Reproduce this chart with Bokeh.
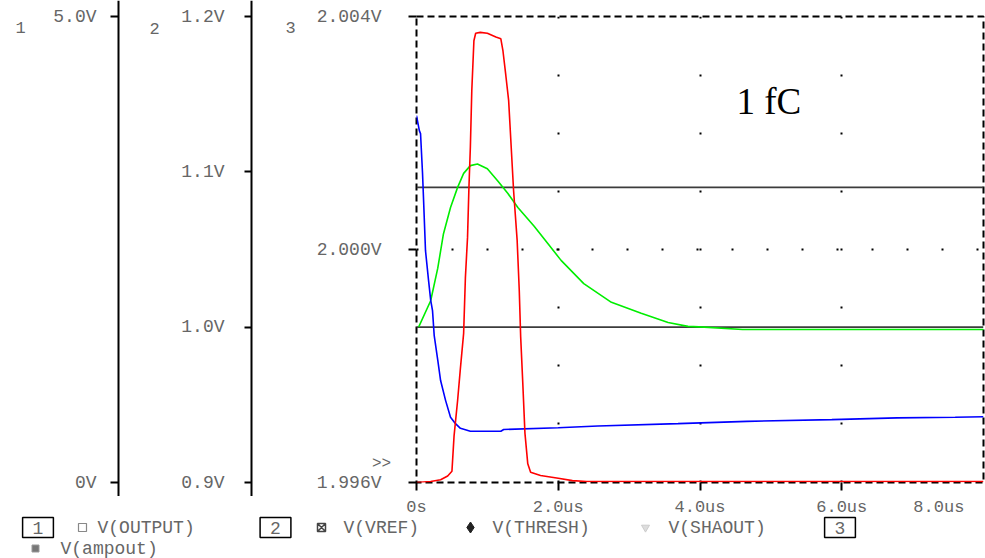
from bokeh.plotting import figure
from bokeh.models import Range1d, FixedTicker, Label, LinearAxis
from bokeh.layouts import row, column
from bokeh.embed import file_html
from bokeh.resources import INLINE

# ---------------- data (time in microseconds) ----------------
time_output_us = [0.0, 0.2, 0.34, 0.44, 0.5, 0.53, 0.58, 0.62, 0.665, 0.69, 0.72, 0.74, 0.76,
                  0.78, 0.81, 0.835, 0.9, 1.0, 1.12, 1.19, 1.22, 1.26, 1.30, 1.37, 1.42, 1.45,
                  1.47, 1.50, 1.53, 1.57, 1.61, 1.75, 2.0, 2.2, 2.4, 8.0]
v_output = [0.0, 0.01, 0.03, 0.07, 0.12, 0.5, 0.88, 1.23, 1.6, 2.2, 2.63, 3.17, 3.6,
            4.2, 4.74, 4.82, 4.83, 4.82, 4.78, 4.76, 4.63, 4.37, 4.1, 3.13, 2.6, 2.06,
            1.56, 1.06, 0.53, 0.2, 0.11, 0.075, 0.045, 0.02, 0.01, 0.01]

time_shaout_us = [0.03, 0.2, 0.30, 0.38, 0.48, 0.58, 0.665, 0.76, 0.86, 1.0, 1.15, 1.29,
                  1.43, 1.66, 1.85, 2.04, 2.36, 2.75, 3.17, 3.55, 3.83, 4.06, 4.6, 8.0]
v_shaout = [1.0, 1.017, 1.038, 1.060, 1.077, 1.090, 1.099, 1.104, 1.105, 1.102, 1.094, 1.086,
            1.077, 1.065, 1.054, 1.043, 1.028, 1.016, 1.009, 1.003, 1.0005, 1.0, 0.9985, 0.9985]

time_ampout_us = [0.0, 0.04, 0.057, 0.085, 0.10, 0.127, 0.17, 0.20, 0.226, 0.25, 0.30, 0.34,
                  0.41, 0.48, 0.55, 0.62, 0.76, 1.19, 1.23, 2.0, 2.56, 3.69, 4.66, 5.86,
                  6.78, 7.6, 8.0]
v_ampout = [2.0023, 2.00204, 2.00199, 2.00131, 2.00084, 1.99998, 1.99947, 1.99913, 1.99895,
            1.99852, 1.99810, 1.99775, 1.99741, 1.99712, 1.99701, 1.99693, 1.99688, 1.99688,
            1.99691, 1.99694, 1.99697, 1.99701, 1.99705, 1.99708, 1.99711, 1.99712, 1.99713]

time_ref_us = [0.0, 8.0]
v_vref = [1.0, 1.0]
v_thresh = [1.09, 1.09]

x_ticks_us = [0, 2, 4, 6]
x_tick_labels = ["0s", "2.0us", "4.0us", "6.0us"]
x_end_us = 8
x_end_label = "8.0us"
axis1_ticks = [0, 5]
axis1_labels = ["0V", "5.0V"]
axis2_ticks = [0.9, 1.0, 1.1, 1.2]
axis2_labels = ["0.9V", "1.0V", "1.1V", "1.2V"]
axis3_ticks = [1.996, 2.000, 2.004]
axis3_labels = ["1.996V", "2.000V", "2.004V"]
axis_numbers = ["1", "2", "3"]
legend_names = ["V(OUTPUT)", "V(VREF)", "V(THRESH)", "V(SHAOUT)", "V(ampout)"]
note_text = "1 fC"

# ---------------- layout / styling constants ----------------
MONO = "Liberation Mono"
GREY = "#666666"
FS = "18px"
PAGE_W, PAGE_H = 985, 558
ROW_H = 496               # height of the axes row
FRAME_TOP, FRAME_BOTTOM = 16, 482
LEFT_W = 404              # panel holding the three value axes
MAIN_W = PAGE_W - LEFT_W
MAIN_BL, MAIN_BR = 12, 2  # main plot borders -> frame spans 416..983
END_LABEL_POS = 7.37      # PSpice shifts the last time label inward

r1 = Range1d(axis1_ticks[0], axis1_ticks[-1])
r2 = Range1d(axis2_ticks[0], axis2_ticks[-1])
r3 = Range1d(axis3_ticks[0], axis3_ticks[-1])


def extended(lo, hi):
    """Same scale as the main frame, but over the full height of the left panel."""
    per_px = (hi - lo) / (FRAME_BOTTOM - FRAME_TOP)
    return Range1d(lo - (ROW_H - FRAME_BOTTOM) * per_px, hi + FRAME_TOP * per_px)


def style_axis(ax, ticks, labels, tick_out, standoff, line_color, size=FS):
    ax.ticker = FixedTicker(ticks=ticks)
    ax.major_label_overrides = dict(zip(ticks, labels))
    ax.minor_tick_line_color = None
    ax.major_tick_in = 0
    ax.major_tick_out = tick_out
    ax.major_tick_line_color = "black"
    ax.major_tick_line_width = 2
    ax.axis_line_color = line_color
    ax.axis_line_width = 2
    ax.major_label_standoff = standoff
    ax.major_label_text_font = MONO
    ax.major_label_text_font_size = size
    ax.major_label_text_color = GREY


def frame_text(x, y, txt, size="17px"):
    return Label(x=x, y=y, x_units="data", y_units="screen", text=txt,
                 text_font=MONO, text_font_size=size, text_color=GREY,
                 text_align="center", text_baseline="middle")


# ---------- left panel: value axes 1, 2 and 3 ----------
fL = figure(width=LEFT_W, height=ROW_H, x_range=Range1d(0, LEFT_W),
            y_range=extended(axis2_ticks[0], axis2_ticks[-1]),
            x_axis_location=None, y_axis_location=None, toolbar_location=None,
            output_backend="svg", min_border=0, outline_line_color=None,
            frame_align=False)
fL.extra_y_ranges = {"ax1": extended(axis1_ticks[0], axis1_ticks[-1]),
                     "ax3": extended(axis3_ticks[0], axis3_ticks[-1])}
fL.grid.visible = False

a1 = LinearAxis(y_range_name="ax1", fixed_location=118)
style_axis(a1, axis1_ticks, axis1_labels, 8, 14, "black")
fL.add_layout(a1, "left")

a2 = LinearAxis(fixed_location=251)
style_axis(a2, axis2_ticks, axis2_labels, 7, 20, "black")
fL.add_layout(a2, "left")

a3 = LinearAxis(y_range_name="ax3", fixed_location=LEFT_W)
style_axis(a3, axis3_ticks, axis3_labels, 0, 23, None)
a3.major_tick_line_color = None
fL.add_layout(a3, "left")

fL.add_layout(frame_text(20, ROW_H - 27, axis_numbers[0]))
fL.add_layout(frame_text(154, ROW_H - 28, axis_numbers[1]))
fL.add_layout(frame_text(290, ROW_H - 27, axis_numbers[2]))
fL.add_layout(frame_text(381, ROW_H - 463, ">>", "16px"))

# ---------- main plot ----------
p = figure(width=MAIN_W, height=ROW_H, x_range=Range1d(0, x_end_us), y_range=r3,
           toolbar_location=None, output_backend="svg",
           min_border_left=MAIN_BL, min_border_right=MAIN_BR, min_border_top=FRAME_TOP,
           min_border_bottom=ROW_H - FRAME_BOTTOM, frame_align=False)
p.extra_y_ranges = {"ax1": r1, "ax2": r2}
p.outline_line_color = "black"
p.outline_line_width = 2
p.outline_line_dash = "7 4"

# tick marks only (labels are drawn by the neighbouring panels)
style_axis(p.yaxis[0], axis3_ticks, [""] * len(axis3_ticks), 8, 0, None, "0px")
style_axis(p.xaxis[0], x_ticks_us, [""] * len(x_ticks_us), 8, 0, None, "0px")

p.xgrid.ticker = FixedTicker(ticks=x_ticks_us[1:])
p.xgrid.grid_line_color = "black"
p.xgrid.grid_line_width = 2
p.xgrid.grid_line_dash = "2 56"
p.ygrid.ticker = FixedTicker(ticks=[axis3_ticks[1]])
p.ygrid.grid_line_color = "black"
p.ygrid.grid_line_width = 2
p.ygrid.grid_line_dash = "2 33"

p.line(time_ref_us, v_thresh, y_range_name="ax2", line_color="#3c3c3c", line_width=1.6)
p.line(time_ref_us, v_vref, y_range_name="ax2", line_color="#3c3c3c", line_width=1.6)
p.line(time_shaout_us, v_shaout, y_range_name="ax2", line_color="#00ee00", line_width=1.6)
p.line(time_ampout_us, v_ampout, line_color="#0000ff", line_width=1.6)
p.line(time_output_us, v_output, y_range_name="ax1", line_color="#ff0000", line_width=1.6)

p.add_layout(Label(x=320, y=381, x_units="screen", y_units="screen", text=note_text,
                   text_font="Liberation Serif", text_font_size="37px",
                   text_color="black", text_baseline="middle"))

# ---------- bottom strip: time labels + legend ----------
LH = PAGE_H - ROW_H
px_per_us = (PAGE_W - MAIN_BR - LEFT_W - MAIN_BL) / x_end_us
t_left = -(LEFT_W + MAIN_BL) / px_per_us
t_right = t_left + PAGE_W / px_per_us

lg = figure(width=PAGE_W, height=LH, x_range=Range1d(0, PAGE_W), y_range=Range1d(0, LH),
            x_axis_location=None, y_axis_location=None, toolbar_location=None,
            output_backend="svg", min_border=0, outline_line_color=None,
            frame_align=False)
lg.extra_x_ranges = {"time": Range1d(t_left, t_right)}
lg.grid.visible = False

tx = LinearAxis(x_range_name="time", fixed_location=LH)
style_axis(tx, x_ticks_us, x_tick_labels, 0, 1, None, "17px")
tx.major_tick_line_color = None
lg.add_layout(tx, "below")

tx_end = LinearAxis(x_range_name="time", fixed_location=LH)
style_axis(tx_end, [END_LABEL_POS], [x_end_label], 0, 1, None, "17px")
tx_end.major_tick_line_color = None
lg.add_layout(tx_end, "below")

ROW1 = PAGE_H - 527
ROW2 = PAGE_H - 548


def box_label(x, txt):
    return Label(x=x, y=ROW1, text=txt, text_font=MONO, text_font_size=FS,
                 text_color=GREY, text_align="center", text_baseline="middle",
                 border_line_color="black", border_line_width=1.5, padding=(10, 4))


def name_label(x, y, txt):
    return Label(x=x, y=y, text=txt, text_font=MONO, text_font_size=FS,
                 text_color=GREY, text_align="left", text_baseline="middle")


lg.add_layout(box_label(37.5, axis_numbers[0]))
lg.scatter([82], [ROW1], marker="square", size=8, fill_color=None, line_color="#888888", line_width=1.2)
lg.add_layout(name_label(97, ROW1, legend_names[0]))

lg.add_layout(box_label(275, axis_numbers[1]))
lg.scatter([321], [ROW1], marker="square_x", size=8, fill_color=None, line_color="#444444", line_width=1.5)
lg.add_layout(name_label(343, ROW1, legend_names[1]))
lg.scatter([470], [ROW1], marker="diamond", size=11, fill_color="#222222", line_color="#222222")
lg.add_layout(name_label(492, ROW1, legend_names[2]))
lg.scatter([645], [ROW1], marker="inverted_triangle", size=8, fill_color="#dddddd", line_color="#cccccc")
lg.add_layout(name_label(668, ROW1, legend_names[3]))

lg.add_layout(box_label(839.5, axis_numbers[2]))

lg.scatter([35], [ROW2], marker="square", size=7, fill_color="#777777", line_color="#999999")
lg.add_layout(name_label(60, ROW2, legend_names[4]))

layout = column(row(fL, p), lg)
open("out.html", "w").write(file_html(layout, INLINE))
